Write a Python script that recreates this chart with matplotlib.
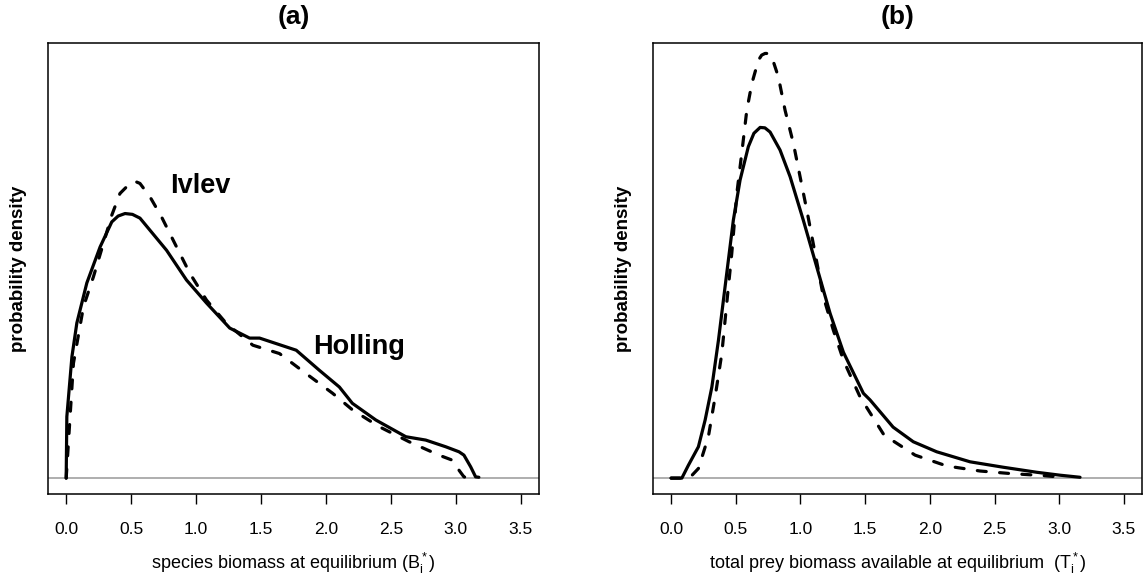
import numpy as np
import matplotlib
matplotlib.use("Agg")
import matplotlib.pyplot as plt

plt.rcParams['font.family'] = ['Liberation Sans', 'DejaVu Sans']
plt.rcParams['mathtext.fontset'] = 'custom'
plt.rcParams['mathtext.rm'] = 'Liberation Sans'
plt.rcParams['mathtext.it'] = 'Liberation Sans'
plt.rcParams['mathtext.default'] = 'regular'

# ============================
# Data (density in arbitrary units)
# ============================
# (a) species biomass at equilibrium
a_holling_x = [0.0, 0.005, 0.044, 0.082, 0.159, 0.261, 0.351, 0.400, 0.453, 0.510,
               0.568, 0.773, 0.926, 1.080, 1.259, 1.412, 1.489, 1.771, 1.949, 2.103,
               2.203, 2.384, 2.615, 2.768, 2.922, 3.024, 3.062, 3.114, 3.152, 3.177]
a_holling_y = [0.0, 0.147, 0.290, 0.371, 0.467, 0.553, 0.613, 0.627, 0.633, 0.631,
               0.622, 0.545, 0.474, 0.419, 0.359, 0.335, 0.335, 0.306, 0.258, 0.218,
               0.179, 0.139, 0.099, 0.091, 0.075, 0.063, 0.055, 0.027, 0.003, 0.002]

a_ivlev_x = [0.0, 0.056, 0.133, 0.210, 0.286, 0.351, 0.414, 0.491, 0.530, 0.568,
             0.645, 0.734, 0.837, 0.952, 1.080, 1.233, 1.437, 1.642, 1.847, 2.051,
             2.205, 2.410, 2.640, 2.870, 2.972, 3.024, 3.062, 3.085]
a_ivlev_y = [0.0, 0.275, 0.410, 0.482, 0.561, 0.629, 0.681, 0.705, 0.710, 0.705,
             0.673, 0.625, 0.561, 0.490, 0.426, 0.370, 0.318, 0.298, 0.250, 0.203,
             0.163, 0.123, 0.087, 0.055, 0.043, 0.019, 0.003, 0.001]

# (b) total prey biomass available at equilibrium
b_holling_x = [0.0, 0.083, 0.134, 0.211, 0.263, 0.315, 0.366, 0.430, 0.481, 0.533,
               0.597, 0.640, 0.688, 0.725, 0.765, 0.842, 0.920, 1.022, 1.126, 1.229,
               1.332, 1.486, 1.538, 1.716, 1.872, 2.053, 2.311, 2.568, 2.826, 3.006,
               3.161]
b_holling_y = [0.0, 0.0, 0.031, 0.075, 0.139, 0.218, 0.330, 0.490, 0.617, 0.713,
               0.793, 0.825, 0.839, 0.838, 0.828, 0.785, 0.721, 0.617, 0.505, 0.394,
               0.301, 0.203, 0.187, 0.122, 0.087, 0.063, 0.039, 0.026, 0.014, 0.007,
               0.002]

b_ivlev_x = [0.0, 0.093, 0.147, 0.211, 0.288, 0.340, 0.392, 0.430, 0.469, 0.508,
             0.546, 0.585, 0.624, 0.675, 0.700, 0.726, 0.752, 0.778, 0.829, 0.881,
             0.945, 0.997, 1.049, 1.113, 1.177, 1.254, 1.332, 1.461, 1.646, 1.886,
             2.131, 2.388, 2.620, 2.877, 2.952]
b_ivlev_y = [0.0, 0.0, 0.002, 0.023, 0.099, 0.194, 0.298, 0.418, 0.538, 0.681,
             0.777, 0.880, 0.944, 1.000, 1.012, 1.016, 1.016, 1.008, 0.960, 0.880,
             0.801, 0.721, 0.641, 0.538, 0.434, 0.354, 0.282, 0.194, 0.103, 0.055,
             0.029, 0.017, 0.011, 0.006, 0.004]

x_ticks = [0.0, 0.5, 1.0, 1.5, 2.0, 2.5, 3.0, 3.5]

# ============================
# Plot
# ============================
fig = plt.figure(figsize=(11.44, 5.75), dpi=100)
ax_a = fig.add_axes([48 / 1144, 81 / 575, 491 / 1144, 451 / 575])
ax_b = fig.add_axes([653 / 1144, 81 / 575, 489 / 1144, 451 / 575])

panels = [
    (ax_a, a_holling_x, a_holling_y, a_ivlev_x, a_ivlev_y, "(a)",
     r"species biomass at equilibrium $(B_i^*)$"),
    (ax_b, b_holling_x, b_holling_y, b_ivlev_x, b_ivlev_y, "(b)",
     r"total prey biomass available at equilibrium  $(T_i^*)$"),
]

for ax, hx, hy, ix, iy, title, xlabel in panels:
    ax.axhline(0, color='#999999', lw=1.1, zorder=1)
    ax.plot(hx, hy, color='black', lw=2.3, solid_capstyle='round',
            solid_joinstyle='round', zorder=3)
    ax.plot(ix, iy, color='black', lw=2.3, linestyle=(0, (2.8, 4.2)),
            dash_capstyle='round', zorder=3)
    ax.set_xlim(-0.14, 3.64)
    ax.set_ylim(-0.038, 1.041)
    ax.set_xticks(x_ticks)
    ax.set_xticklabels([f"{t:.1f}" for t in x_ticks], fontsize=12.5)
    ax.set_yticks([])
    ax.tick_params(axis='x', direction='out', length=7, width=1, pad=13)
    for s in ax.spines.values():
        s.set_linewidth(1.1)
    ax.set_title(title, fontsize=19, fontweight='bold', pad=14)
    ax.set_xlabel(xlabel, fontsize=13, labelpad=10)
    ax.set_ylabel("probability density", fontsize=13.5, fontweight='bold', labelpad=15)

ax_a.text(0.80, 0.70, "Ivlev", fontsize=19.5, fontweight='bold', va='center', ha='left')
ax_a.text(1.90, 0.313, "Holling", fontsize=19.5, fontweight='bold', va='center', ha='left')

plt.savefig("out.png", dpi=100)
